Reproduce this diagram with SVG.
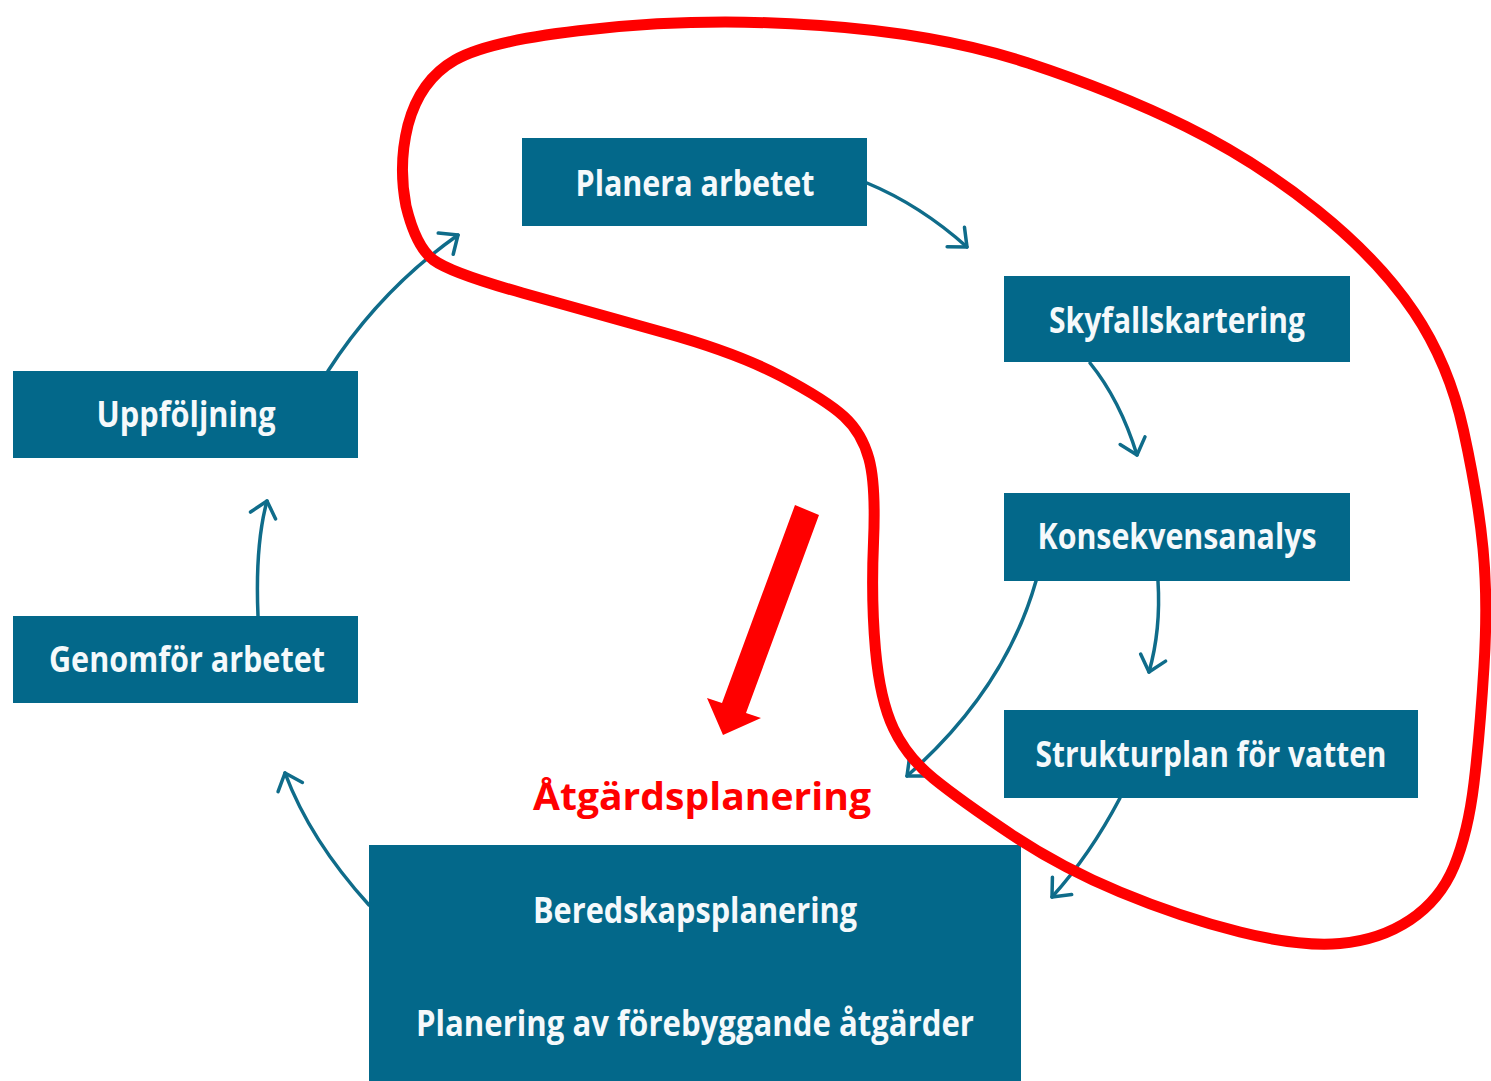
<svg xmlns="http://www.w3.org/2000/svg" width="1491" height="1081" viewBox="0 0 1491 1081">
<style>
.box{fill:#03688A}
.lbl{fill:#F5F9FB;font-family:"Open Sans","Noto Sans",sans-serif;font-weight:700;font-size:36px;text-anchor:middle}
.con{fill:none;stroke:#0F6C8A;stroke-width:3.5;stroke-linecap:round}
.red{fill:#FF0000}
</style>
<defs>
<marker id="arr" markerUnits="userSpaceOnUse" viewBox="-20 -20 40 40" markerWidth="40" markerHeight="40" refX="0" refY="0" orient="auto">
<path d="M-15,-13 L0,0 L-15,13" fill="none" stroke="#0F6C8A" stroke-width="3.5" stroke-linecap="round" stroke-linejoin="round"/>
</marker>
</defs>
<rect width="1491" height="1081" fill="#FFFFFF"/>
<g id="connectors">
<path class="con" marker-end="url(#arr)" d="M867,183 Q920,205 967,247"/>
<path class="con" marker-end="url(#arr)" d="M1090,363 Q1120,400 1137,455"/>
<path class="con" marker-end="url(#arr)" d="M1158,581 Q1161,630 1149,672"/>
<path class="con" marker-end="url(#arr)" d="M1036,581 Q1005,690 907,776"/>
<path class="con" marker-end="url(#arr)" d="M1120,798 Q1090,855 1052,897"/>
<path class="con" marker-end="url(#arr)" d="M369,905 Q310,840 285,773"/>
<path class="con" marker-end="url(#arr)" d="M258,616 Q255,545 267,501"/>
<path class="con" marker-end="url(#arr)" d="M328,371 Q380,290 458,235"/>
</g>
<g id="n-planera">
<rect class="box" x="522" y="138" width="345" height="88"/>
<text class="lbl" x="695" y="196" textLength="239" lengthAdjust="spacingAndGlyphs">Planera arbetet</text>
</g>
<g id="n-skyfall">
<rect class="box" x="1004" y="276" width="346" height="86"/>
<text class="lbl" x="1177" y="333" textLength="256" lengthAdjust="spacingAndGlyphs">Skyfallskartering</text>
</g>
<g id="n-konsekvens">
<rect class="box" x="1004" y="493" width="346" height="88"/>
<text class="lbl" x="1177" y="549" textLength="279" lengthAdjust="spacingAndGlyphs">Konsekvensanalys</text>
</g>
<g id="n-struktur">
<rect class="box" x="1004" y="710" width="414" height="88"/>
<text class="lbl" x="1211" y="767" textLength="351" lengthAdjust="spacingAndGlyphs">Strukturplan för vatten</text>
</g>
<g id="n-uppfoljning">
<rect class="box" x="13" y="371" width="345" height="87"/>
<text class="lbl" x="186" y="427" textLength="179" lengthAdjust="spacingAndGlyphs">Uppföljning</text>
</g>
<g id="n-genomfor">
<rect class="box" x="13" y="616" width="345" height="87"/>
<text class="lbl" x="187" y="672" textLength="276" lengthAdjust="spacingAndGlyphs">Genomför arbetet</text>
</g>
<g id="n-atgard">
<rect class="box" x="369" y="845" width="652" height="236"/>
<text class="lbl" x="695" y="923" textLength="324" lengthAdjust="spacingAndGlyphs">Beredskapsplanering</text>
<text class="lbl" x="695" y="1036" textLength="558" lengthAdjust="spacingAndGlyphs">Planering av förebyggande åtgärder</text>
</g>
<g id="annotation">
<text x="702" y="810" fill="#FF0000" font-family="Open Sans, Noto Sans, sans-serif" font-weight="700" font-size="38" text-anchor="middle" textLength="338" lengthAdjust="spacingAndGlyphs">Åtgärdsplanering</text>
<path fill="none" stroke="#FF0000" stroke-width="11" stroke-linejoin="round" d="M820.5,25.5 Q940,34 1028,63 Q1116,92 1186,126.5 Q1256,161 1317.5,210.5 Q1379,260 1414,312 Q1449,364 1463.5,430.5 Q1478,497 1483,548.5 Q1488,600 1484,666.5 Q1480,733 1474,783 Q1468,833 1454,866.5 Q1440,900 1410,920 Q1380,940 1340,943.5 Q1300,947 1240,932 Q1180,917 1120,892 Q1060,867 1010,833.5 Q960,800 933.5,778.5 Q907,757 893.5,728.5 Q880,700 875.5,650 Q871,600 873.5,542.5 Q876,485 869,459 Q862,433 844,416.5 Q826,400 781.5,376.5 Q737,353 665.5,333 Q594,313 522.5,293 Q451,273 433.5,260 Q416,247 406,206 Q398,165 408,125 Q420,80 455,60 Q490,40 590.5,29.5 Q701,17 820.5,25.5 Z"/>
<polygon class="red" points="795,505 819,515 746,713 761,718 723,735 707,698 722,703"/>
</g>
</svg>
